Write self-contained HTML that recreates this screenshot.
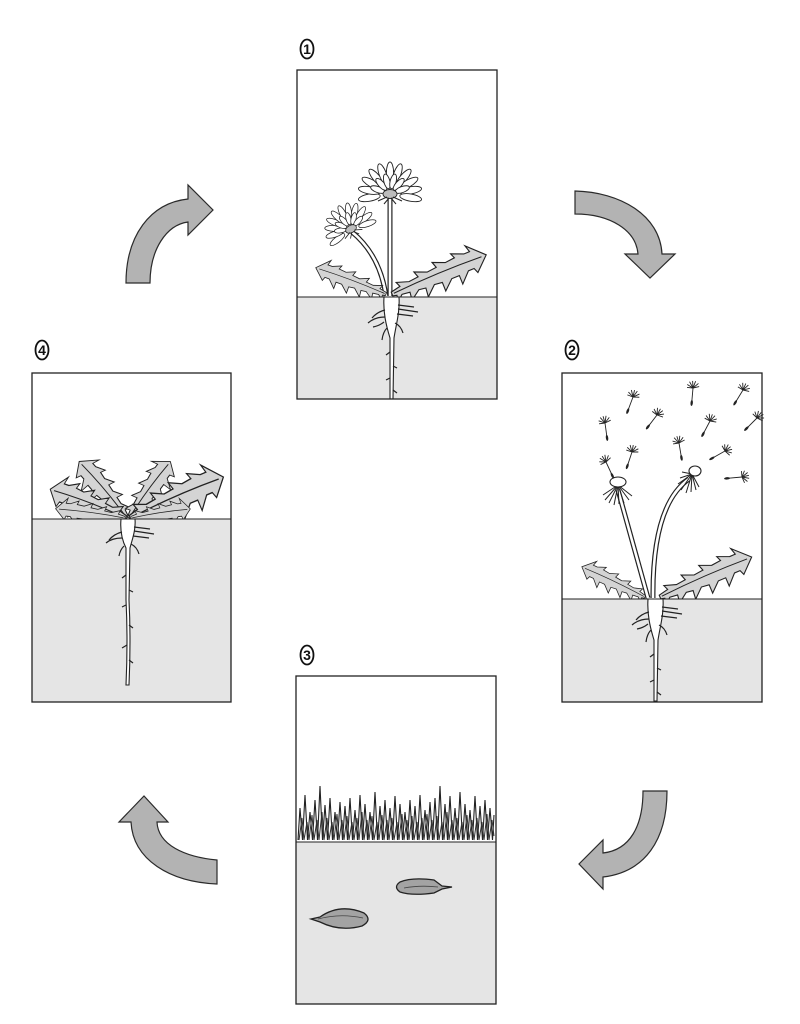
<!DOCTYPE html>
<html>
<head>
<meta charset="utf-8">
<style>
html,body{margin:0;padding:0;background:#fff;}
svg{display:block;}
text{font-family:"Liberation Sans","DejaVu Sans",sans-serif;}
</style>
</head>
<body>
<svg width="800" height="1024" viewBox="0 0 800 1024" xmlns="http://www.w3.org/2000/svg">
<defs>
  <path id="leaf" d="M0,-2 L10,-4 L8,-9 L20,-5 L30,-6 L28,-12 L40,-7 L50,-8 L48,-14 L60,-9 L70,-10 L68,-15 L80,-10 L86,-10 L84,-17 L100,-1 L86,12 L84,7 L78,7 L68,17 L68,8 L60,8 L50,17 L50,8 L42,7 L32,16 L33,7 L26,6 L16,13 L17,5 L9,4 L3,9 L4,3 L0,2 Z" fill="#d4d4d4" stroke="#222" stroke-width="1.1" stroke-linejoin="miter"/>
  <g id="leafg">
    <use href="#leaf"/>
    <path d="M2,0 Q50,-3 95,-1" fill="none" stroke="#222" stroke-width="1"/>
  </g>
  <g id="flower">
    <g fill="#fff" stroke="#222" stroke-width="0.9">
      <ellipse cx="0" cy="-21" rx="3.6" ry="11" transform="rotate(-100)"/>
      <ellipse cx="0" cy="-21" rx="3.6" ry="11" transform="rotate(-80)"/>
      <ellipse cx="0" cy="-21" rx="3.6" ry="11" transform="rotate(-60)"/>
      <ellipse cx="0" cy="-21" rx="3.6" ry="11" transform="rotate(-40)"/>
      <ellipse cx="0" cy="-21" rx="3.6" ry="11" transform="rotate(-20)"/>
      <ellipse cx="0" cy="-21" rx="3.6" ry="11" transform="rotate(0)"/>
      <ellipse cx="0" cy="-21" rx="3.6" ry="11" transform="rotate(20)"/>
      <ellipse cx="0" cy="-21" rx="3.6" ry="11" transform="rotate(40)"/>
      <ellipse cx="0" cy="-21" rx="3.6" ry="11" transform="rotate(60)"/>
      <ellipse cx="0" cy="-21" rx="3.6" ry="11" transform="rotate(80)"/>
      <ellipse cx="0" cy="-21" rx="3.6" ry="11" transform="rotate(100)"/>
      <ellipse cx="0" cy="-13" rx="3" ry="7.5" transform="rotate(-70)"/>
      <ellipse cx="0" cy="-13" rx="3" ry="7.5" transform="rotate(-42)"/>
      <ellipse cx="0" cy="-13" rx="3" ry="7.5" transform="rotate(-14)"/>
      <ellipse cx="0" cy="-13" rx="3" ry="7.5" transform="rotate(14)"/>
      <ellipse cx="0" cy="-13" rx="3" ry="7.5" transform="rotate(42)"/>
      <ellipse cx="0" cy="-13" rx="3" ry="7.5" transform="rotate(70)"/>
    </g>
    <ellipse cx="0" cy="0" rx="7" ry="4.5" fill="#bdbdbd" stroke="#222" stroke-width="0.9"/>
    <g stroke="#222" stroke-width="1" fill="none">
      <path d="M-3,3 L-12,7"/><path d="M-1,4 L-6,10"/><path d="M1,4 L6,10"/><path d="M3,3 L12,7"/>
    </g>
  </g>
  <g id="sd">
    <g stroke="#222" stroke-width="0.9" fill="none">
      <path d="M0,0 L-6,-3"/><path d="M0,0 L-4,-6"/><path d="M0,0 L-1,-7"/><path d="M0,0 L2,-7"/><path d="M0,0 L5,-5"/><path d="M0,0 L6,-2"/><path d="M0,0 L-6,0"/>
      <path d="M0,0 L0,16"/>
    </g>
    <ellipse cx="0" cy="15" rx="1.2" ry="3" fill="#222"/>
  </g>
  <g id="root1">
    <path d="M384,297 L399,297 C400,312 396,325 394,338 L393,399 L390,399 L390,338 C386,325 383,312 384,297 Z" fill="#fff" stroke="#222" stroke-width="1.1"/>
    <g fill="none" stroke="#222" stroke-width="1.2">
      <path d="M385,310 q-8,2 -13,8"/><path d="M385,317 q-10,0 -17,6"/><path d="M387,328 q-4,4 -5,12"/><path d="M384,322 q-5,4 -11,5"/>
      <path d="M398,305 l16,2"/><path d="M398,309 l20,3"/><path d="M397,314 l16,2"/><path d="M395,323 q6,3 8,10"/>
      <path d="M390,352 l-4,3"/><path d="M393,366 l4,2"/><path d="M390,378 l-4,2"/><path d="M393,390 l4,3"/>
    </g>
  </g>
</defs>

<!-- ================= Panel 1 ================= -->
<g>
  <rect x="297" y="70" width="200" height="329" fill="#fff"/>
  <path d="M390,197 L390,296" stroke="#222" stroke-width="5" fill="none"/>
  <path d="M390,197 L390,296" stroke="#fff" stroke-width="2.6" fill="none"/>
  <path d="M352,232 Q380,255 386,296" stroke="#222" stroke-width="5" fill="none"/>
  <path d="M352,232 Q380,255 386,296" stroke="#fff" stroke-width="2.6" fill="none"/>
  <use href="#leafg" transform="translate(386,294) scale(-1,1) rotate(-20) scale(0.75)"/>
  <use href="#leafg" transform="translate(392,294) rotate(-22) scale(1.02)"/>
  <use href="#flower" transform="translate(390,194)"/>
  <use href="#flower" transform="translate(351,229) rotate(-28) scale(0.82)"/>
  <rect x="297" y="297" width="200" height="102" fill="#e5e5e5"/>
  <line x1="297" y1="297" x2="497" y2="297" stroke="#222" stroke-width="1.1"/>
  <use href="#root1"/>
  <rect x="297" y="70" width="200" height="329" fill="none" stroke="#222" stroke-width="1.3"/>
</g>

<!-- ================= Panel 2 ================= -->
<g>
  <rect x="562" y="373" width="200" height="329" fill="#fff"/>
  <use href="#sd" transform="translate(633,397) rotate(20.6)"/>
  <use href="#sd" transform="translate(605,423) rotate(-7.8)"/>
  <use href="#sd" transform="translate(657,415) rotate(37.4)"/>
  <use href="#sd" transform="translate(693,388) rotate(5)"/>
  <use href="#sd" transform="translate(743,390) rotate(31.4)"/>
  <use href="#sd" transform="translate(710,421) rotate(27.8)"/>
  <use href="#sd" transform="translate(757,418) rotate(45)"/>
  <use href="#sd" transform="translate(632,452) rotate(18.4)"/>
  <use href="#sd" transform="translate(679,443) rotate(-9.5)"/>
  <use href="#sd" transform="translate(725,451) rotate(60.6)"/>
  <use href="#sd" transform="translate(742,477) rotate(84.8)"/>
  <use href="#sd" transform="translate(606,462) rotate(-25)"/>
  <path d="M618,490 Q632,540 648,598" stroke="#222" stroke-width="5" fill="none"/>
  <path d="M618,490 Q632,540 648,598" stroke="#fff" stroke-width="2.6" fill="none"/>
  <path d="M689,479 Q652,505 653,598" stroke="#222" stroke-width="5" fill="none"/>
  <path d="M689,479 Q652,505 653,598" stroke="#fff" stroke-width="2.6" fill="none"/>
  <g stroke="#222" stroke-width="1" fill="none">
    <path d="M618,485 L605,500"/><path d="M618,485 L609,503"/><path d="M618,485 L614,505"/><path d="M618,485 L619,504"/><path d="M618,485 L624,503"/><path d="M618,485 L629,500"/><path d="M618,485 L632,496"/><path d="M618,485 L603,495"/>
    <path d="M692,474 L680,478"/><path d="M692,474 L678,484"/><path d="M692,474 L681,490"/><path d="M692,474 L686,493"/><path d="M692,474 L691,492"/><path d="M692,474 L696,490"/><path d="M692,474 L699,487"/><path d="M692,474 L682,472"/>
  </g>
  <ellipse cx="618" cy="482" rx="8" ry="5" fill="#fff" stroke="#222" stroke-width="1.1"/>
  <ellipse cx="695" cy="471" rx="6" ry="5" fill="#fff" stroke="#222" stroke-width="1.1"/>
  <use href="#leafg" transform="translate(645,597) scale(-1,1) rotate(-25) scale(0.7)"/>
  <use href="#leafg" transform="translate(660,597) rotate(-23) scale(1.0)"/>
  <rect x="562" y="599" width="200" height="103" fill="#e5e5e5"/>
  <line x1="562" y1="599" x2="762" y2="599" stroke="#222" stroke-width="1.1"/>
  <use href="#root1" transform="translate(264,302)"/>
  <rect x="562" y="373" width="200" height="329" fill="none" stroke="#222" stroke-width="1.3"/>
</g>

<!-- ================= Panel 3 ================= -->
<g>
  <rect x="296" y="676" width="200" height="328" fill="#fff"/>
  <path d="M298,840 L300,808 L302.5,840 L305,795 L307.5,840 L310,812 L312.5,840 L315,800 L317.5,840 L320,786 L322.5,840 L325,805 L327.5,840 L330,798 L332.5,840 L335,812 L337.5,840 L340,802 L342.5,840 L345,806 L347.5,840 L350,798 L352.5,840 L355,810 L357.5,840 L360,795 L362.5,840 L365,804 L367.5,840 L370,812 L372.5,840 L375,792 L377.5,840 L380,806 L382.5,840 L385,800 L387.5,840 L390,808 L392.5,840 L395,796 L397.5,840 L400,804 L402.5,840 L405,812 L407.5,840 L410,800 L412.5,840 L415,806 L417.5,840 L420,795 L422.5,840 L425,810 L427.5,840 L430,802 L432.5,840 L435,798 L437.5,840 L440,786 L442.5,840 L445,804 L447.5,840 L450,796 L452.5,840 L455,808 L457.5,840 L460,792 L462.5,840 L465,804 L467.5,840 L470,810 L472.5,840 L475,796 L477.5,840 L480,806 L482.5,840 L485,800 L487.5,840 L490,808 L492.5,840 L494,815" fill="none" stroke="#222" stroke-width="1.1" stroke-linejoin="miter"/>
  <path d="M299,840 L302,818 L304,840 L307,822 L309,840 L312,815 L314,840 L317,820 L319,840 L322,812 L324,840 L327,818 L329,840 L332,822 L334,840 L337,814 L339,840 L342,820 L344,840 L347,816 L349,840 L352,822 L354,840 L357,818 L359,840 L362,812 L364,840 L367,820 L369,840 L372,816 L374,840 L377,822 L379,840 L382,815 L384,840 L387,820 L389,840 L392,818 L394,840 L397,822 L399,840 L402,814 L404,840 L407,820 L409,840 L412,816 L414,840 L417,822 L419,840 L422,818 L424,840 L427,814 L429,840 L432,820 L434,840 L437,816 L439,840 L442,822 L444,840 L447,812 L449,840 L452,820 L454,840 L457,818 L459,840 L462,822 L464,840 L467,815 L469,840 L472,820 L474,840 L477,818 L479,840 L482,822 L484,840 L487,814 L489,840 L492,820 L494,836" fill="none" stroke="#333" stroke-width="1" stroke-linejoin="miter"/>
  <rect x="296" y="842" width="200" height="162" fill="#e5e5e5"/>
  <line x1="296" y1="842" x2="496" y2="842" stroke="#222" stroke-width="1.1"/>
  <path d="M311,919 L320,917 Q340,903 364,913 Q373,920 362,926 Q340,932 320,922 Z" fill="#a3a3a3" stroke="#222" stroke-width="1.3"/>
  <path d="M318,919 Q340,913 363,918" fill="none" stroke="#444" stroke-width="0.8"/>
  <path d="M400,882 Q412,877 434,880 L442,886 L452,887 L442,889 L434,893 Q412,896 400,892 Q393,887 400,882 Z" fill="#a3a3a3" stroke="#222" stroke-width="1.3"/>
  <path d="M404,888 Q420,885 438,887" fill="none" stroke="#444" stroke-width="0.8"/>
  <rect x="296" y="676" width="200" height="328" fill="none" stroke="#222" stroke-width="1.3"/>
</g>

<!-- ================= Panel 4 ================= -->
<g>
  <rect x="32" y="373" width="199" height="329" fill="#fff"/>
  <use href="#leafg" transform="translate(127,518) scale(-1,1) rotate(-49) scale(0.74,1.0)"/>
  <use href="#leafg" transform="translate(129,518) rotate(-53) scale(0.7,0.95)"/>
  <use href="#leafg" transform="translate(126,518) scale(-1,1) rotate(-20) scale(0.81,1.1)"/>
  <use href="#leafg" transform="translate(130,518) rotate(-23) scale(1.02,1.25)"/>
  <use href="#leafg" transform="translate(125,518) scale(-1,1) rotate(-7) scale(0.7,0.75)"/>
  <use href="#leafg" transform="translate(131,518) rotate(-8) scale(0.6,0.75)"/>
  <rect x="32" y="519" width="199" height="183" fill="#e5e5e5"/>
  <line x1="32" y1="519" x2="231" y2="519" stroke="#222" stroke-width="1.1"/>
  <path d="M121,519 L135,519 C136,530 132,540 130,548 L129,600 Q131,640 129,685 L126,685 Q128,640 126,600 L126,548 C122,540 120,530 121,519 Z" fill="#fff" stroke="#222" stroke-width="1.1"/>
  <g fill="none" stroke="#222" stroke-width="1.2">
    <path d="M122,532 q-8,2 -13,8"/><path d="M122,538 q-10,0 -16,5"/><path d="M124,546 q-4,4 -5,10"/>
    <path d="M134,527 l16,2"/><path d="M134,531 l20,3"/><path d="M133,536 l16,2"/><path d="M131,544 q6,3 8,10"/>
    <path d="M126,575 l-4,3"/><path d="M129,590 l4,2"/><path d="M126,605 l-4,2"/><path d="M129,625 l4,3"/><path d="M127,645 l-5,3"/><path d="M129,660 l4,3"/>
  </g>
  <rect x="32" y="373" width="199" height="329" fill="none" stroke="#222" stroke-width="1.3"/>
</g>

<!-- ================= Arrows ================= -->
<g fill="#b3b3b3" stroke="#2a2a2a" stroke-width="1.2" stroke-linejoin="miter">
  <path d="M126,283 C126,236 150,203 188,199 L188,185 L213,210 L188,235 L188,222 C166,225 150,250 150,283 Z"/>
  <path d="M575,191 C620,192 660,215 662,254 L675,254 L650,278 L625,254 L638,254 C636,230 610,214 575,214 Z"/>
  <path d="M643,791 C643,826 630,850 603,853 L603,840 L579,864 L603,889 L603,877 C645,872 667,840 667,791 Z"/>
  <path d="M217,860 C185,857 158,845 157,822 L168,822 L144,796 L119,822 L131,822 C133,860 170,882 217,884 Z"/>
</g>

<!-- ================= Labels ================= -->
<g fill="none" stroke="#111" stroke-width="1.8">
  <ellipse cx="307" cy="49" rx="6.5" ry="9.5"/>
  <ellipse cx="572" cy="350" rx="6.5" ry="9.5"/>
  <ellipse cx="307" cy="655" rx="6.5" ry="9.5"/>
  <ellipse cx="42" cy="350" rx="6.5" ry="9.5"/>
</g>
<g font-size="14" font-weight="bold" text-anchor="middle" fill="#111">
  <text x="307" y="54">1</text>
  <text x="572" y="355">2</text>
  <text x="307" y="660">3</text>
  <text x="42" y="355">4</text>
</g>
</svg>
</body>
</html>
